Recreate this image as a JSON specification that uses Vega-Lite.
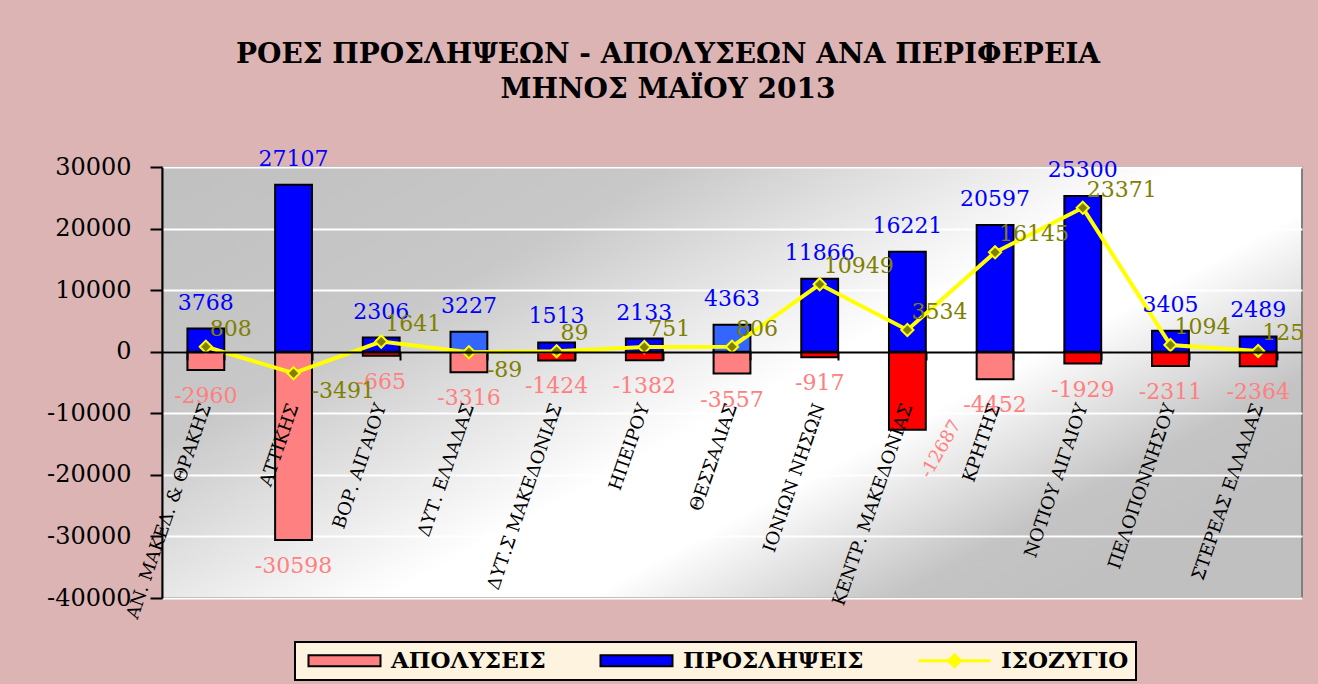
{
  "$schema": "https://vega.github.io/schema/vega-lite/v6.json",
  "width": 1140,
  "height": 431,
  "autosize": {"type": "none"},
  "padding": {"left": 162, "top": 167, "right": 16, "bottom": 86},
  "background": "#dcb4b4",
  "title": {
    "text": ["ΡΟΕΣ ΠΡΟΣΛΗΨΕΩΝ - ΑΠΟΛΥΣΕΩΝ ΑΝΑ ΠΕΡΙΦΕΡΕΙΑ", "ΜΗΝΟΣ ΜΑΪΟΥ 2013"],
    "font": "DejaVu Serif",
    "fontSize": 28,
    "fontWeight": "bold",
    "color": "#000000",
    "lineHeight": 35,
    "anchor": "middle",
    "frame": "group",
    "dx": -64,
    "offset": 44
  },
  "config": {
    "view": {
      "stroke": "#808080",
      "strokeWidth": 2,
      "fill": {
        "gradient": "linear",
        "x1": 0, "y1": 0, "x2": 1, "y2": 0.7,
        "stops": [
          {"offset": 0, "color": "#c0c0c0"},
          {"offset": 0.3, "color": "#c8c8c8"},
          {"offset": 0.6, "color": "#ffffff"},
          {"offset": 0.72, "color": "#ffffff"},
          {"offset": 0.9, "color": "#c4c4c4"},
          {"offset": 1, "color": "#c0c0c0"}
        ]
      }
    }
  },
  "data": {
    "values": [
      {"region": "ΑΝ. ΜΑΚΕΔ. & ΘΡΑΚΗΣ", "ΑΠΟΛΥΣΕΙΣ": -2960, "ΠΡΟΣΛΗΨΕΙΣ": 3768, "ΙΣΟΖΥΓΙΟ": 808},
      {"region": "ΑΤΤΙΚΗΣ", "ΑΠΟΛΥΣΕΙΣ": -30598, "ΠΡΟΣΛΗΨΕΙΣ": 27107, "ΙΣΟΖΥΓΙΟ": -3491},
      {"region": "ΒΟΡ. ΑΙΓΑΙΟΥ", "ΑΠΟΛΥΣΕΙΣ": -665, "ΠΡΟΣΛΗΨΕΙΣ": 2306, "ΙΣΟΖΥΓΙΟ": 1641},
      {"region": "ΔΥΤ. ΕΛΛΑΔΑΣ", "ΑΠΟΛΥΣΕΙΣ": -3316, "ΠΡΟΣΛΗΨΕΙΣ": 3227, "ΙΣΟΖΥΓΙΟ": -89},
      {"region": "ΔΥΤ.Σ ΜΑΚΕΔΟΝΙΑΣ", "ΑΠΟΛΥΣΕΙΣ": -1424, "ΠΡΟΣΛΗΨΕΙΣ": 1513, "ΙΣΟΖΥΓΙΟ": 89},
      {"region": "ΗΠΕΙΡΟΥ", "ΑΠΟΛΥΣΕΙΣ": -1382, "ΠΡΟΣΛΗΨΕΙΣ": 2133, "ΙΣΟΖΥΓΙΟ": 751},
      {"region": "ΘΕΣΣΑΛΙΑΣ", "ΑΠΟΛΥΣΕΙΣ": -3557, "ΠΡΟΣΛΗΨΕΙΣ": 4363, "ΙΣΟΖΥΓΙΟ": 806},
      {"region": "ΙΟΝΙΩΝ ΝΗΣΩΝ", "ΑΠΟΛΥΣΕΙΣ": -917, "ΠΡΟΣΛΗΨΕΙΣ": 11866, "ΙΣΟΖΥΓΙΟ": 10949},
      {"region": "ΚΕΝΤΡ. ΜΑΚΕΔΟΝΙΑΣ", "ΑΠΟΛΥΣΕΙΣ": -12687, "ΠΡΟΣΛΗΨΕΙΣ": 16221, "ΙΣΟΖΥΓΙΟ": 3534},
      {"region": "ΚΡΗΤΗΣ", "ΑΠΟΛΥΣΕΙΣ": -4452, "ΠΡΟΣΛΗΨΕΙΣ": 20597, "ΙΣΟΖΥΓΙΟ": 16145},
      {"region": "ΝΟΤΙΟΥ ΑΙΓΑΙΟΥ", "ΑΠΟΛΥΣΕΙΣ": -1929, "ΠΡΟΣΛΗΨΕΙΣ": 25300, "ΙΣΟΖΥΓΙΟ": 23371},
      {"region": "ΠΕΛΟΠΟΝΝΗΣΟΥ", "ΑΠΟΛΥΣΕΙΣ": -2311, "ΠΡΟΣΛΗΨΕΙΣ": 3405, "ΙΣΟΖΥΓΙΟ": 1094},
      {"region": "ΣΤΕΡΕΑΣ ΕΛΛΑΔΑΣ", "ΑΠΟΛΥΣΕΙΣ": -2364, "ΠΡΟΣΛΗΨΕΙΣ": 2489, "ΙΣΟΖΥΓΙΟ": 125}
    ]
  },
  "transform": [
    {"fold": ["ΑΠΟΛΥΣΕΙΣ", "ΠΡΟΣΛΗΨΕΙΣ", "ΙΣΟΖΥΓΙΟ"], "as": ["series", "value"]}
  ],
  "encoding": {
    "x": {
      "field": "region",
      "type": "nominal",
      "sort": null,
      "scale": {"paddingInner": 0.58, "paddingOuter": 0.29},
      "axis": {
        "title": null,
        "labelAngle": -71,
        "labelFont": "DejaVu Serif",
        "labelFontSize": 18,
        "labelColor": "#000000",
        "labelPadding": 44,
        "labelLimit": 400,
        "offset": -246,
        "domainColor": "#000000",
        "domainWidth": 2,
        "tickColor": "#000000",
        "tickWidth": 2,
        "tickSize": 8,
        "tickBand": "extent",
        "grid": false,
        "zindex": 1
      }
    },
    "y": {
      "field": "value",
      "type": "quantitative",
      "scale": {"domain": [-40000, 30000], "nice": false},
      "axis": {
        "title": null,
        "values": [-40000, -30000, -20000, -10000, 0, 10000, 20000, 30000],
        "labelExpr": "'' + datum.value",
        "labelFont": "DejaVu Serif",
        "labelFontSize": 24,
        "labelColor": "#000000",
        "labelPadding": 19,
        "domainColor": "#000000",
        "domainWidth": 2,
        "tickColor": "#000000",
        "tickWidth": 2,
        "tickSize": 12,
        "grid": true,
        "gridColor": "#ffffff",
        "gridWidth": 2
      }
    }
  },
  "layer": [
    {
      "transform": [{"filter": "datum.series !== 'ΙΣΟΖΥΓΙΟ'"}],
      "mark": {"type": "bar", "stroke": "#000000", "strokeWidth": 2},
      "encoding": {
        "color": {
          "condition": [
            {"test": "datum.series === 'ΑΠΟΛΥΣΕΙΣ' && indexof(['ΒΟΡ. ΑΙΓΑΙΟΥ','ΔΥΤ.Σ ΜΑΚΕΔΟΝΙΑΣ','ΗΠΕΙΡΟΥ','ΙΟΝΙΩΝ ΝΗΣΩΝ','ΚΕΝΤΡ. ΜΑΚΕΔΟΝΙΑΣ','ΝΟΤΙΟΥ ΑΙΓΑΙΟΥ','ΠΕΛΟΠΟΝΝΗΣΟΥ','ΣΤΕΡΕΑΣ ΕΛΛΑΔΑΣ'], datum.region) >= 0", "value": "#FF0000"},
            {"test": "datum.series === 'ΠΡΟΣΛΗΨΕΙΣ' && (datum.region === 'ΔΥΤ. ΕΛΛΑΔΑΣ' || datum.region === 'ΘΕΣΣΑΛΙΑΣ')", "value": "#3366FF"}
          ],
          "field": "series",
          "type": "nominal",
          "scale": {"domain": ["ΑΠΟΛΥΣΕΙΣ", "ΠΡΟΣΛΗΨΕΙΣ", "ΙΣΟΖΥΓΙΟ"], "range": ["#FF8080", "#0000FF", "#FFFF00"]},
          "legend": {
            "orient": "none",
            "legendX": 133,
            "legendY": 475,
            "direction": "horizontal",
            "title": null,
            "fillColor": "#FDF3DF",
            "strokeColor": "#000000",
            "padding": 7,
            "labelFont": "DejaVu Serif",
            "labelFontSize": 23,
            "labelFontWeight": "bold",
            "labelColor": "#000000",
            "labelLimit": 400,
            "symbolSize": 400,
            "symbolType": "M-0.5,-0.55H6.7V0.55H-0.5Z",
            "symbolStrokeWidth": 2,
            "symbolStrokeColor": "#000000",
            "columnPadding": 48,
            "labelOffset": 66,
            "encode": {
              "legend": {"update": {"strokeWidth": {"value": 2}}},
              "symbols": {
                "update": {
                  "shape": {"signal": "datum.value === 'ΙΣΟΖΥΓΙΟ' ? 'M-0.5,0H6.7M3.1,-0.6L3.7,0L3.1,0.6L2.5,0Z' : 'M-0.5,-0.55H6.7V0.55H-0.5Z'"},
                  "fill": {"signal": "datum.value === 'ΑΠΟΛΥΣΕΙΣ' ? '#FF8080' : datum.value === 'ΠΡΟΣΛΗΨΕΙΣ' ? '#0000FF' : '#808000'"},
                  "stroke": {"signal": "datum.value === 'ΙΣΟΖΥΓΙΟ' ? '#FFFF00' : '#000000'"},
                  "strokeWidth": {"signal": "datum.value === 'ΙΣΟΖΥΓΙΟ' ? 3 : 2"}
                }
              }
            }
          }
        }
      }
    },
    {
      "transform": [{"filter": "datum.series === 'ΙΣΟΖΥΓΙΟ'"}],
      "mark": {"type": "line", "strokeWidth": 4, "color": "#FFFF00"},
      "encoding": {}
    },
    {
      "transform": [{"filter": "datum.series === 'ΙΣΟΖΥΓΙΟ'"}],
      "mark": {"type": "point", "shape": "diamond", "filled": true, "fill": "#808000", "stroke": "#FFFF00", "strokeWidth": 2, "size": 150, "opacity": 1}
    },
    {
      "transform": [{"filter": "datum.series === 'ΠΡΟΣΛΗΨΕΙΣ'"}],
      "mark": {"type": "text", "font": "DejaVu Serif", "fontSize": 22, "color": "#0000FF", "baseline": "bottom", "dy": -14},
      "encoding": {"text": {"field": "value", "type": "nominal"}}
    },
    {
      "transform": [{"filter": "datum.series === 'ΑΠΟΛΥΣΕΙΣ' && datum.region !== 'ΚΕΝΤΡ. ΜΑΚΕΔΟΝΙΑΣ'"}],
      "mark": {"type": "text", "font": "DejaVu Serif", "fontSize": 22, "color": "#FF8080", "baseline": "top", "dy": 16},
      "encoding": {"text": {"field": "value", "type": "nominal"}}
    },
    {
      "transform": [{"filter": "datum.series === 'ΑΠΟΛΥΣΕΙΣ' && datum.region === 'ΚΕΝΤΡ. ΜΑΚΕΔΟΝΙΑΣ'"}],
      "mark": {"type": "text", "font": "DejaVu Serif", "fontSize": 18, "color": "#FF8080", "baseline": "middle", "align": "center", "angle": 300, "dx": 0, "dy": 39},
      "encoding": {"text": {"field": "value", "type": "nominal"}}
    },
    {
      "transform": [{"filter": "datum.series === 'ΙΣΟΖΥΓΙΟ' && datum.value >= 0"}],
      "mark": {"type": "text", "font": "DejaVu Serif", "fontSize": 22, "color": "#808000", "baseline": "middle", "align": "left", "dx": 4, "dy": -18},
      "encoding": {"text": {"field": "value", "type": "nominal"}}
    },
    {
      "transform": [{"filter": "datum.series === 'ΙΣΟΖΥΓΙΟ' && datum.value < 0"}],
      "mark": {"type": "text", "font": "DejaVu Serif", "fontSize": 22, "color": "#808000", "baseline": "middle", "align": "left", "dx": 18, "dy": 18},
      "encoding": {"text": {"field": "value", "type": "nominal"}}
    }
  ]
}
